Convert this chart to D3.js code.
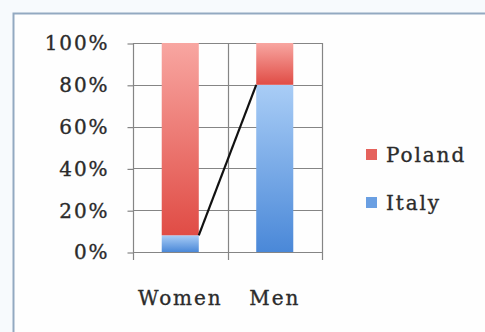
<!DOCTYPE html>
<html>
<head>
<meta charset="utf-8">
<script src="https://cdn.jsdelivr.net/npm/d3@7/dist/d3.min.js"></script>
<style>
  html, body { margin: 0; padding: 0; background: #f7fafd; }
  svg { display: block; }
  text { font-family: "DejaVu Serif", serif; fill: #2b2b2b; stroke: #2b2b2b; stroke-width: 0.35px; }
</style>
</head>
<body>
<svg id="chart" width="485" height="332"></svg>
<script>
// Share of respondents by country, in percent, per gender group
const categories = ["Women", "Men"];
const italy = [8, 80];
const poland = [92, 20];
const yTicks = [0, 20, 40, 60, 80, 100];
const seriesNames = ["Poland", "Italy"];

const svg = d3.select("#chart");
const fontSize = "20px";
const spacing = "1.9px";

// chart frame
svg.append("rect")
  .attr("x", 13.5).attr("y", 13.5)
  .attr("width", 520).attr("height", 340)
  .attr("fill", "#fefefe")
  .attr("stroke", "#93a9c1").attr("stroke-width", 2);

const plot = { left: 133, right: 322, top: 43, bottom: 252 };

const x = d3.scaleBand()
  .domain(categories)
  .range([plot.left, plot.right])
  .paddingInner(0.608)
  .paddingOuter(0.304);

const y = d3.scaleLinear().domain([0, 100]).range([plot.bottom, plot.top]);

// gradients: light at top, deeper at bottom
const defs = svg.append("defs");
function grad(id, top, bottom) {
  const g = defs.append("linearGradient").attr("id", id)
    .attr("x1", 0).attr("y1", 0).attr("x2", 0).attr("y2", 1);
  g.append("stop").attr("offset", "0%").attr("stop-color", top);
  g.append("stop").attr("offset", "100%").attr("stop-color", bottom);
}
grad("gPoland", "#f8a6a1", "#e04c45");
grad("gItaly", "#a9cdf6", "#4a88d8");

// horizontal gridlines
svg.append("g").selectAll("line").data(yTicks).join("line")
  .attr("x1", plot.left).attr("x2", plot.right)
  .attr("y1", d => Math.round(y(d)) + 0.5).attr("y2", d => Math.round(y(d)) + 0.5)
  .attr("stroke", "#858585").attr("stroke-width", 1.2);

// vertical gridlines at category boundaries, extending as tick marks
const bounds = [plot.left, ...categories.map(c => x(c) + x.bandwidth() / 2 + x.step() / 2)];
svg.append("g").selectAll("line").data(bounds).join("line")
  .attr("x1", d => Math.round(d) + 0.5).attr("x2", d => Math.round(d) + 0.5)
  .attr("y1", plot.top).attr("y2", plot.bottom + 8)
  .attr("stroke", "#858585").attr("stroke-width", 1.2);

// y axis
const yAxis = d3.axisLeft(y)
  .tickValues(yTicks)
  .tickSize(6)
  .tickPadding(18)
  .tickFormat(d => d + "%");
const ax = svg.append("g")
  .attr("transform", `translate(${plot.left + 0.5},0.5)`)
  .call(yAxis);
ax.select(".domain").remove();
ax.selectAll(".tick line").attr("stroke", "#858585").attr("stroke-width", 1.2);
ax.selectAll(".tick text")
  .style("font-family", '"DejaVu Serif", serif')
  .style("font-size", fontSize)
  .style("letter-spacing", spacing)
  .attr("fill", "#2b2b2b");

// stacked bars
const stackData = categories.map((c, i) => ({ cat: c, Italy: italy[i], Poland: poland[i] }));
const stacked = d3.stack().keys(["Italy", "Poland"])(stackData);
const fills = { Italy: "url(#gItaly)", Poland: "url(#gPoland)" };

svg.append("g").selectAll("g").data(stacked).join("g")
  .attr("fill", s => fills[s.key])
  .selectAll("rect").data(s => s).join("rect")
  .attr("x", d => x(d.data.cat))
  .attr("width", x.bandwidth())
  .attr("y", d => y(d[1]))
  .attr("height", d => y(d[0]) - y(d[1]));

// series line joining the Italy tops
svg.append("line")
  .attr("x1", x("Women") + x.bandwidth()).attr("y1", y(italy[0]))
  .attr("x2", x("Men")).attr("y2", y(italy[1]))
  .attr("stroke", "#111").attr("stroke-width", 2.2);

// category labels
svg.append("g").selectAll("text").data(categories).join("text")
  .attr("x", d => x(d) + x.bandwidth() / 2)
  .attr("y", 305)
  .attr("text-anchor", "middle")
  .style("font-size", fontSize)
  .style("letter-spacing", spacing)
  .text(d => d);

// legend
const legendColors = { Poland: "#e5625c", Italy: "#6a9fe2" };
const lg = svg.append("g").selectAll("g").data(seriesNames).join("g")
  .attr("transform", (d, i) => `translate(366,${149 + i * 48})`);
lg.append("rect").attr("width", 11).attr("height", 11)
  .attr("fill", d => legendColors[d]);
lg.append("text").attr("x", 20).attr("y", 13)
  .style("font-size", fontSize)
  .style("letter-spacing", spacing)
  .text(d => d);
</script>
</body>
</html>
